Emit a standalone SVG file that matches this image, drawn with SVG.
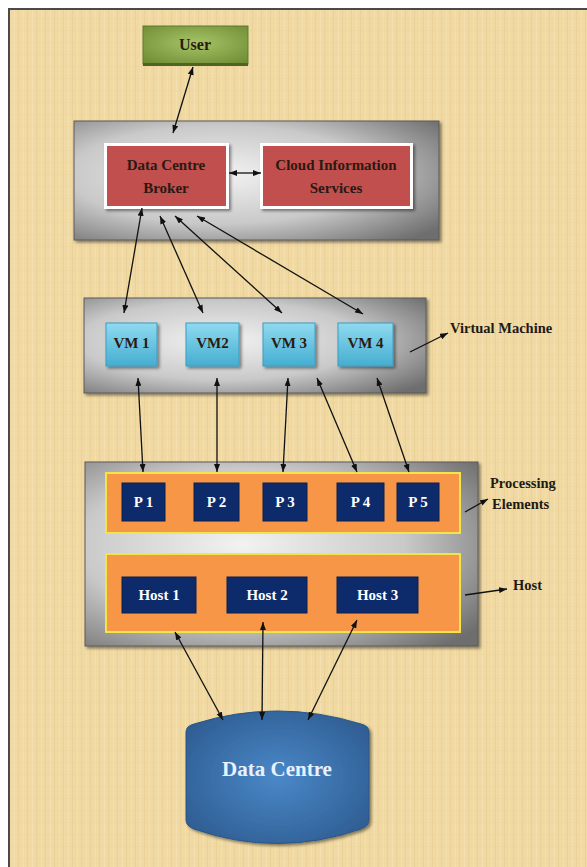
<svg xmlns="http://www.w3.org/2000/svg" width="587" height="867" viewBox="0 0 587 867">
<style>
.t{font-family:"Liberation Serif","Times New Roman",serif;font-weight:bold;font-size:15px;text-anchor:middle}
.dark{fill:#2a1a12}
.w{fill:#ffffff}
.lbl{font-family:"Liberation Serif","Times New Roman",serif;font-weight:bold;font-size:14.5px;fill:#1e1a14}
.panel{fill:url(#gray);stroke:#5a5a5a;stroke-width:1;filter:url(#sh)}
.red{fill:#c0504d;stroke:#ffffff;stroke-width:3;filter:url(#sh)}
.vm{fill:url(#blue);stroke:#3f9cbf;stroke-width:1;filter:url(#sh)}
.row{fill:#f79646;stroke:#f0e64a;stroke-width:2}
.pe{fill:#0d2a6b;stroke:#0a1f50;stroke-width:1}
.c{stroke:#111;stroke-width:1.3;fill:none;marker-end:url(#ah)}
.d{marker-start:url(#ah)}
</style>
<defs>
<pattern id="tex" width="9" height="12" patternUnits="userSpaceOnUse">
<rect width="9" height="12" fill="#f0d9a2"/>
<rect x="0" y="0" width="1" height="12" fill="#e3c98c" opacity="0.45"/>
<rect x="5" y="0" width="1" height="12" fill="#f6e6bb" opacity="0.5"/>
<rect x="0" y="6" width="9" height="1" fill="#e8d197" opacity="0.3"/>
</pattern>
<radialGradient id="gray" cx="0.4" cy="0.45" r="0.75">
<stop offset="0" stop-color="#f2f2f2"/>
<stop offset="0.55" stop-color="#c9c9c9"/>
<stop offset="1" stop-color="#6e6e6e"/>
</radialGradient>
<linearGradient id="blue" x1="0" y1="0" x2="0" y2="1">
<stop offset="0" stop-color="#8fdaf0"/>
<stop offset="1" stop-color="#45aed0"/>
</linearGradient>
<radialGradient id="green" cx="0.5" cy="0.45" r="0.7">
<stop offset="0" stop-color="#a6c466"/>
<stop offset="1" stop-color="#6f8c35"/>
</radialGradient>
<radialGradient id="cyl" cx="0.5" cy="0.5" r="0.6">
<stop offset="0" stop-color="#4a88c8"/>
<stop offset="1" stop-color="#2f5e93"/>
</radialGradient>
<filter id="sh" x="-10%" y="-10%" width="125%" height="130%">
<feDropShadow dx="2" dy="2" stdDeviation="1.5" flood-color="#000" flood-opacity="0.45"/>
</filter>
<marker id="ah" viewBox="0 0 8 6" refX="8" refY="3" markerWidth="8" markerHeight="6" markerUnits="userSpaceOnUse" orient="auto-start-reverse">
<path d="M0,0 L8,3 L0,6 z" fill="#111"/>
</marker>
</defs>

<rect width="587" height="867" fill="#ffffff"/>
<rect x="9" y="9" width="590" height="870" fill="url(#tex)" stroke="#4a4a4a" stroke-width="2"/>

<g id="user">
<rect x="143" y="26" width="105" height="38" fill="url(#green)" stroke="#5f7a2c" stroke-width="1"/>
<rect x="143" y="63" width="105" height="3" fill="#4e6522"/>
<text class="t dark" x="195" y="50" style="font-size:16px">User</text>
</g>

<g id="broker-panel">
<rect class="panel" x="74" y="121" width="365" height="119"/>
</g>
<g id="broker">
<rect class="red" x="105.5" y="144.5" width="122" height="63"/>
<text class="t dark" x="166" y="170">Data Centre</text>
<text class="t dark" x="166" y="193">Broker</text>
</g>
<g id="cis">
<rect class="red" x="261.5" y="144.5" width="150" height="63"/>
<text class="t dark" x="336" y="170">Cloud Information</text>
<text class="t dark" x="336" y="193">Services</text>
</g>

<g id="vm-panel">
<rect class="panel" x="84" y="298" width="342" height="95"/>
</g>
<g id="vm1"><rect class="vm" x="106" y="323" width="51" height="43"/><text class="t dark" x="131.5" y="348">VM 1</text></g>
<g id="vm2"><rect class="vm" x="186" y="323" width="53" height="43"/><text class="t dark" x="212.5" y="348">VM2</text></g>
<g id="vm3"><rect class="vm" x="263" y="323" width="52" height="43"/><text class="t dark" x="289" y="348">VM 3</text></g>
<g id="vm4"><rect class="vm" x="338" y="323" width="55" height="43"/><text class="t dark" x="365.5" y="348">VM 4</text></g>
<g id="vm-label"><text class="lbl" x="450" y="333">Virtual Machine</text></g>

<g id="host-panel">
<rect class="panel" x="85" y="462" width="393" height="184"/>
</g>
<g id="pe-row"><rect class="row" x="106" y="473" width="354" height="60"/></g>
<g id="p1"><rect class="pe" x="122" y="483" width="43" height="38"/><text class="t w" x="143.5" y="507">P 1</text></g>
<g id="p2"><rect class="pe" x="194" y="483" width="45" height="38"/><text class="t w" x="216.5" y="507">P 2</text></g>
<g id="p3"><rect class="pe" x="263" y="483" width="44" height="38"/><text class="t w" x="285" y="507">P 3</text></g>
<g id="p4"><rect class="pe" x="337" y="483" width="47" height="38"/><text class="t w" x="360.5" y="507">P 4</text></g>
<g id="p5"><rect class="pe" x="397" y="483" width="42" height="38"/><text class="t w" x="418" y="507">P 5</text></g>
<g id="pe-label"><text class="lbl" x="490" y="488">Processing</text><text class="lbl" x="492" y="509">Elements</text></g>

<g id="host-row"><rect class="row" x="106" y="554" width="354" height="78"/></g>
<g id="host1"><rect class="pe" x="122" y="577" width="74" height="36"/><text class="t w" x="159" y="600">Host 1</text></g>
<g id="host2"><rect class="pe" x="227" y="577" width="80" height="36"/><text class="t w" x="267" y="600">Host 2</text></g>
<g id="host3"><rect class="pe" x="337" y="577" width="81" height="36"/><text class="t w" x="377.5" y="600">Host 3</text></g>
<g id="host-label"><text class="lbl" x="513" y="590">Host</text></g>

<g id="datacentre">
<path d="M186,732 Q186,726 194,724 Q277,698 361,724 Q369,726 369,732 L369,820 Q369,826 361,829 Q277,858 194,829 Q186,826 186,820 Z" fill="url(#cyl)" stroke="#2a5585" stroke-width="1" filter="url(#sh)"/>
<text class="t" x="277" y="776" style="font-size:21px;fill:#e8f2ff">Data Centre</text>
</g>

<g id="connectors">
<line class="c d" x1="173" y1="133" x2="193" y2="67"/>
<line class="c d" x1="229" y1="173" x2="261" y2="173"/>
<line class="c d" x1="142" y1="208" x2="124" y2="313"/>
<line class="c d" x1="160" y1="216" x2="203" y2="313"/>
<line class="c d" x1="175" y1="216" x2="282" y2="313"/>
<line class="c d" x1="197" y1="216" x2="363" y2="314"/>
<line class="c d" x1="138" y1="378" x2="143" y2="472"/>
<line class="c d" x1="217" y1="378" x2="217" y2="472"/>
<line class="c d" x1="288" y1="378" x2="283" y2="472"/>
<line class="c d" x1="317" y1="378" x2="357" y2="472"/>
<line class="c d" x1="377" y1="378" x2="409" y2="472"/>
<line class="c d" x1="175" y1="632" x2="223" y2="720"/>
<line class="c d" x1="263" y1="622" x2="262" y2="720"/>
<line class="c d" x1="357" y1="620" x2="308" y2="720"/>
<line class="c" x1="410" y1="352" x2="448" y2="333"/>
<line class="c" x1="465" y1="512" x2="488" y2="499"/>
<line class="c" x1="465" y1="595" x2="507" y2="589"/>
</g>
</svg>
